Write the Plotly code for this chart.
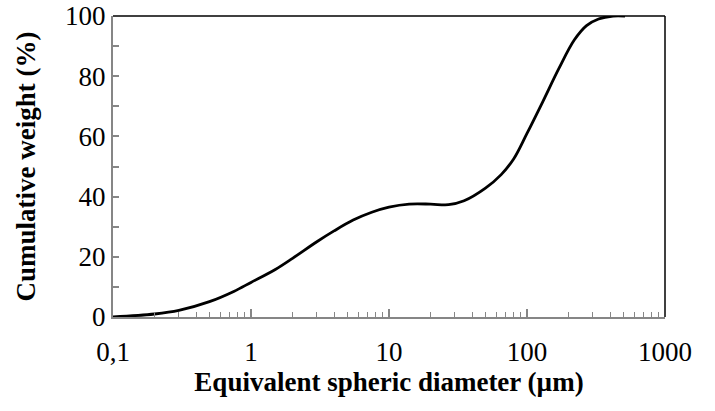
import plotly.graph_objects as go

diameter = [0.1, 0.2, 0.3, 0.5, 0.75, 1.0, 1.5, 2.0, 3.0, 4.0, 5.5, 7.5, 10, 14, 20, 27, 35, 50, 65, 80, 100, 130, 170, 220, 270, 330, 420, 513]
cumulative = [0, 1.0, 2.2, 5.1, 8.5, 11.5, 15.8, 19.5, 25.0, 28.6, 32.2, 34.8, 36.5, 37.5, 37.5, 37.3, 38.6, 42.8, 47.3, 52.5, 61.0, 71.5, 82.5, 92.0, 96.8, 99.0, 100, 100]

x_major = [0.1, 1, 10, 100, 1000]
x_major_text = ["0,1", "1", "10", "100", "1000"]
y_major = [0, 20, 40, 60, 80, 100]

x_minor = [m * 10 ** e for e in range(-1, 3) for m in range(2, 10)]

fig = go.Figure()
fig.add_trace(go.Scatter(
    x=diameter, y=cumulative, mode="lines",
    line=dict(color="black", width=2.8, shape="spline", smoothing=1.0),
    showlegend=False, hoverinfo="skip",
))

font = dict(family="Liberation Serif, Times New Roman, serif", color="black")
axis_grey = "#868686"

fig.update_layout(
    width=715, height=411,
    margin=dict(l=113, r=50, t=16, b=94),
    paper_bgcolor="white", plot_bgcolor="white",
    font=dict(**font, size=27),
    xaxis=dict(
        type="log", range=[-1, 3],
        tickvals=x_major, ticktext=x_major_text,
        ticks="inside", ticklen=8, tickcolor=axis_grey, tickwidth=1.5,
        showline=True, linecolor=axis_grey, linewidth=2,
        showgrid=False, zeroline=False,
        tickfont=dict(**font, size=27),
        ticklabelstandoff=10,
        minor=dict(tickvals=x_minor, ticks="inside", ticklen=5, tickcolor=axis_grey, tickwidth=1.2, showgrid=False),
        title=dict(text="<b>Equivalent spheric diameter (µm)</b>", font=dict(**font, size=27), standoff=3),
        automargin=False,
    ),
    yaxis=dict(
        range=[0, 100],
        tickvals=y_major,
        ticks="inside", ticklen=6, tickcolor=axis_grey, tickwidth=1.5,
        showline=True, linecolor=axis_grey, linewidth=2,
        showgrid=False, zeroline=False,
        tickfont=dict(**font, size=27),
        minor=dict(dtick=10, ticks="inside", ticklen=6, tickcolor=axis_grey, tickwidth=1.5, showgrid=False),
        title=dict(text="<b>Cumulative weight (%)</b>", font=dict(**font, size=27), standoff=22),
        automargin=False,
    ),
    shapes=[
        dict(type="line", xref="paper", yref="paper", x0=0, x1=1, y0=1, y1=1, line=dict(color="black", width=1.5)),
        dict(type="line", xref="paper", yref="paper", x0=1, x1=1, y0=0, y1=1, line=dict(color="black", width=1.5)),
    ],
)

fig.write_html("out.html")
